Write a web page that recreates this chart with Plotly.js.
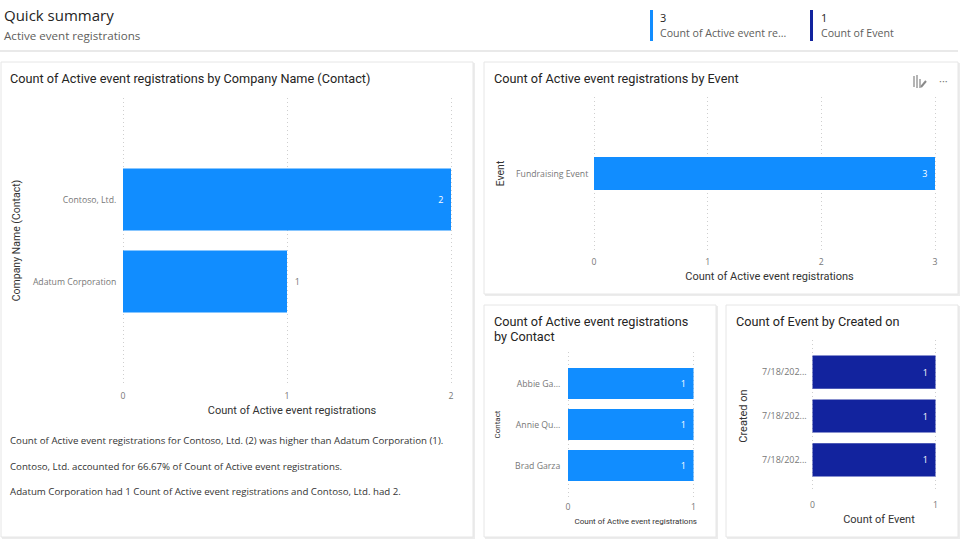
<!DOCTYPE html>
<html>
<head>
<meta charset="utf-8">
<script src="https://cdn.plot.ly/plotly-3.0.1.min.js"></script>
<style>html,body{margin:0;padding:0;background:#fff}#chart{width:960px;height:540px}</style>
</head>
<body>
<div id="chart"></div>
<script>
// ---- data ----
var companyCats = ['Contoso, Ltd.', 'Adatum Corporation'];
var companyVals = [2, 1];
var eventCats = ['Fundraising Event'];
var eventVals = [3];
var contactCats = ['Abbie Ga...', 'Annie Qu...', 'Brad Garza'];
var contactVals = [1, 1, 1];
var createdSlots = [0, 1, 2];
var createdLabels = ['7/18/202...', '7/18/202...', '7/18/202...'];
var createdVals = [1, 1, 1];
var kpiRegistrations = 3;
var kpiEvents = 1;
var insightLines = [
  'Count of Active event registrations for Contoso, Ltd. (2) was higher than Adatum Corporation (1).',
  'Contoso, Ltd. accounted for 66.67% of Count of Active event registrations.',
  'Adatum Corporation had 1 Count of Active event registrations and Contoso, Ltd. had 2.'
];

// ---- styles ----
var W = 960, H = 540;
var BLUE = '#118DFF', NAVY = '#12239E';
var TITLE_FONT = 'Roboto, sans-serif', BODY_FONT = '"Open Sans", sans-serif';
var NB = '\u00a0';
var px = function (x) { return x / W; };
var py = function (y) { return 1 - y / H; };

function xAxis(left, zeroPx, endPx, maxVal, titlePx, titleText, standoff, ticklen, anchor) {
  // domain reaches past both end ticks: keeps the gridline at zero (Plotly drops one on the
  // range edge) and centres the axis title where it sits in the reference
  var perUnit = (endPx - zeroPx) / maxVal;
  var pad = 3;
  var ticks = [];
  for (var i = 0; i <= maxVal; i++) ticks.push(i);
  return {
    domain: [px(zeroPx - pad), px(left + pad)],
    range: [-pad / perUnit, (left + pad - zeroPx) / perUnit],
    anchor: anchor,
    tickvals: ticks,
    ticks: 'outside', ticklen: ticklen, tickcolor: 'rgba(0,0,0,0)',
    tickfont: { family: BODY_FONT, size: 8.7, color: '#777777' },
    showgrid: true, gridcolor: '#cfcfcf', griddash: '1px,3px', gridwidth: 1,
    zeroline: false, showline: false,
    title: { text: titleText, standoff: standoff, font: { family: TITLE_FONT, size: titlePx, color: '#333333' } }
  };
}
function yAxis(topPx, botPx, range, tickvals, ticktext, titlePx, titleText, standoff, ticklen, tickSize, anchor) {
  return {
    domain: [py(botPx), py(topPx)],
    range: range,
    anchor: anchor,
    type: 'linear',
    tickvals: tickvals, ticktext: ticktext,
    ticks: 'outside', ticklen: ticklen, tickcolor: 'rgba(0,0,0,0)',
    tickfont: { family: BODY_FONT, size: tickSize, color: '#777777' },
    showgrid: false, zeroline: false, showline: false,
    title: { text: titleText, standoff: standoff, font: { family: TITLE_FONT, size: titlePx, color: '#333333' } }
  };
}
function idx(a) { return a.map(function (_, i) { return i; }); }
function bar(vals, pos, color, positions, textColors, xa, ya, names) {
  return {
    type: 'bar', orientation: 'h', x: vals, y: pos,
    text: vals.map(function (v, i) { return positions[i] === 'inside' ? v + NB + NB : NB + NB + v; }),
    textposition: positions, insidetextanchor: 'end',
    textangle: 0, constraintext: 'none', cliponaxis: false,
    textfont: { family: BODY_FONT, size: 9, color: textColors },
    marker: { color: color, line: { width: 0 } },
    xaxis: xa, yaxis: ya, hoverinfo: 'x+text', showlegend: false,
    customdata: names
  };
}

var data = [
  bar(companyVals, idx(companyCats), BLUE, ['inside', 'outside'], ['#ffffff', '#777777'], 'x', 'y', companyCats),
  bar(eventVals, idx(eventCats), BLUE, ['inside'], ['#ffffff'], 'x2', 'y2', eventCats),
  bar(contactVals, idx(contactCats), BLUE, ['inside', 'inside', 'inside'], ['#ffffff', '#ffffff', '#ffffff'], 'x3', 'y3', contactCats),
  bar(createdVals, createdSlots, NAVY, ['inside', 'inside', 'inside'], ['#ffffff', '#ffffff', '#ffffff'], 'x4', 'y4', createdLabels)
];

function card(x0, y0, x1, y1) {
  return [
    { type: 'rect', xref: 'paper', yref: 'paper', layer: 'below', x0: px(x0 + 1), x1: px(x1 + 2), y0: py(y0 + 1), y1: py(y1 + 2),
      fillcolor: '#ececec', line: { width: 0 } },
    { type: 'rect', xref: 'paper', yref: 'paper', layer: 'below', x0: px(x0), x1: px(x1), y0: py(y0), y1: py(y1),
      fillcolor: '#ffffff', line: { color: '#e6e6e6', width: 1 } }
  ];
}
function rectPx(x0, y0, x1, y1, color) {
  return { type: 'rect', xref: 'paper', yref: 'paper', x0: px(x0), x1: px(x1), y0: py(y0), y1: py(y1), fillcolor: color, line: { width: 0 } };
}
function label(text, x, y, size, color, family) {
  return { text: text, xref: 'paper', yref: 'paper', x: px(x - 2), y: py(y), xanchor: 'left', yanchor: 'middle',
    showarrow: false, align: 'left', font: { family: family || BODY_FONT, size: size, color: color } };
}

var shapes = [].concat(
  [rectPx(0, 50, 958, 52, '#e9e9e9')],
  card(1, 62, 473, 537), card(484, 62, 958, 294), card(484, 305, 716, 537), card(726, 305, 958, 537),
  [rectPx(650, 10, 653, 41, BLUE), rectPx(810, 10, 813, 41, NAVY),
   rectPx(913, 76, 915, 87, '#b5b5b5'), rectPx(916, 75, 918, 88, '#b5b5b5'), rectPx(919, 79, 921, 88, '#b5b5b5'),
   { type: 'line', xref: 'paper', yref: 'paper', x0: px(921), x1: px(926), y0: py(87), y1: py(81), line: { color: '#8a8a8a', width: 2 } }]
);

var annotations = [
  label('Quick summary', 4, 14.5, 15, '#252423'),
  label('Active event registrations', 4, 35.5, 11.6, '#605E5C'),
  label(String(kpiRegistrations), 660, 18, 11, '#252423'),
  label('Count of Active event re...', 660, 33.5, 10.6, '#605E5C'),
  label(String(kpiEvents), 821, 18, 11, '#252423'),
  label('Count of Event', 821, 33.5, 10.6, '#605E5C'),
  label('Count of Active event registrations by Company Name (Contact)', 10, 78.5, 12.7, '#252423', TITLE_FONT),
  label('Count of Active event registrations by Event', 494, 78.5, 12.7, '#252423', TITLE_FONT),
  label('Count of Active event registrations', 494, 321.5, 12.7, '#252423', TITLE_FONT),
  label('by Contact', 494, 336, 12.7, '#252423', TITLE_FONT),
  label('Count of Event by Created on', 736, 321.5, 12.7, '#252423', TITLE_FONT),
  label('···', 939, 80, 11, '#777777'),
  label(insightLines[0], 10, 440, 9.7, '#333333'),
  label(insightLines[1], 10, 466, 9.7, '#333333'),
  label(insightLines[2], 10, 491, 9.7, '#333333')
];

var layout = {
  width: W, height: H, margin: { l: 0, r: 0, t: 0, b: 0 },
  paper_bgcolor: '#ffffff', plot_bgcolor: 'rgba(0,0,0,0)',
  bargap: 0.245, showlegend: false, shapes: shapes, annotations: annotations,
  font: { family: BODY_FONT },
  xaxis: xAxis(461, 123, 451, 2, 11, 'Count of Active event registrations', 4, 5, 'y'),
  yaxis: yAxis(98, 383, [2.238, -1.238], idx(companyCats), companyCats, 10.5, 'Company Name (Contact)', 10, 1, 8.7, 'x'),
  xaxis2: xAxis(945, 594, 935, 3, 11, 'Count of Active event registrations', 4, 4, 'y2'),
  yaxis2: yAxis(97, 250, [1.75, -1.75], idx(eventCats), eventCats, 10.5, 'Event', 9, 0, 8.7, 'x2'),
  xaxis3: xAxis(703.5, 568, 693.5, 1, 8, 'Count of Active event registrations', 5, 2, 'y3'),
  yaxis3: yAxis(352, 497, [2.77, -0.77], idx(contactCats), contactCats, 8, 'Contact', 13, 2, 8.7, 'x3'),
  xaxis4: xAxis(945.5, 812.5, 935.5, 1, 11, 'Count of Event', 4, 5, 'y4'),
  yaxis4: yAxis(340, 492, [2.73, -0.73], createdSlots, createdLabels, 11, 'Created on', 12, 0, 9, 'x4')
};

Plotly.newPlot('chart', data, layout, { displayModeBar: false, staticPlot: true });
</script>
</body>
</html>
